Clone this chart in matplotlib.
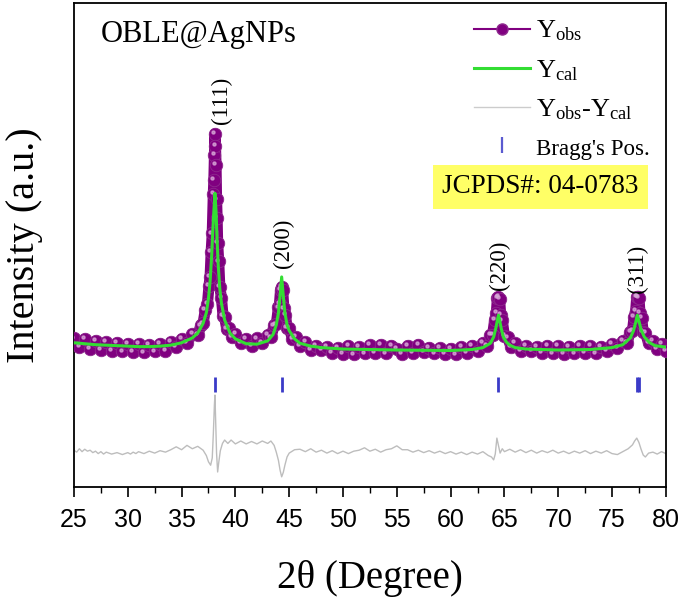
import numpy as np
import matplotlib
matplotlib.use("Agg")
import matplotlib.pyplot as plt
from matplotlib.lines import Line2D
from matplotlib.ticker import MultipleLocator
from matplotlib import transforms

plt.rcParams["font.family"] = "Liberation Serif"
plt.rcParams["mathtext.fontset"] = "custom"
plt.rcParams["mathtext.rm"] = "Liberation Serif"
plt.rcParams["mathtext.it"] = "Liberation Serif:italic"

obs_x = [25.0, 25.5, 26.0, 26.5, 27.0, 27.5, 28.0, 28.5, 29.0, 29.5, 30.0, 30.5, 31.0, 31.5,
         32.0, 32.5, 33.0, 33.5, 34.0, 34.5, 35.0, 35.5, 36.0, 36.5,
         36.8, 37.0, 37.2, 37.4, 37.55, 37.65, 37.75, 37.85, 37.95, 38.0, 38.05, 38.1, 38.15,
         38.2, 38.25, 38.3, 38.35, 38.45, 38.55, 38.7, 38.85, 39.0, 39.2, 39.4, 39.7, 40.0,
         40.5, 41.0, 41.5, 42.0, 42.5, 43.0, 43.3, 43.6, 43.8, 44.0, 44.1, 44.2, 44.3, 44.4,
         44.5, 44.65, 44.8, 45.0, 45.3, 45.6, 46.0, 46.5, 47.0,
         47.5, 48.0, 48.5, 49.0, 49.5, 50.0, 50.5, 51.0, 51.5, 52.0, 52.5, 53.0, 53.5, 54.0,
         54.5, 55.0, 55.5, 56.0, 56.5, 57.0, 57.5, 58.0, 58.5, 59.0, 59.5, 60.0, 60.5, 61.0,
         61.5, 62.0, 62.5, 63.0, 63.4,
         63.7, 63.9, 64.1, 64.25, 64.35, 64.45, 64.55, 64.65, 64.8, 65.0, 65.3, 65.6, 66.0,
         66.5, 67.0, 67.5, 68.0, 68.5, 69.0, 69.5, 70.0, 70.5, 71.0, 71.5, 72.0, 72.5, 73.0,
         73.5, 74.0, 74.5, 75.0, 75.5, 76.0, 76.4, 76.7, 76.9, 77.05, 77.2, 77.3, 77.4, 77.5,
         77.6, 77.75, 77.9, 78.1, 78.4, 78.8, 79.2, 79.6, 80.0]
obs_y = [30.7, 29.0, 30.6, 28.6, 30.2, 28.4, 29.9, 28.1, 29.8, 28.0, 29.6, 27.9, 29.5, 27.8,
         29.4, 28.0, 29.6, 28.2, 29.9, 28.9, 30.6, 29.8, 31.6, 31.4,
         33.4, 33.8, 36.6, 37.8, 41.6, 43.4, 48.6, 52.4, 60.6, 63.4, 68.6, 73.0, 70.4,
         66.6, 59.4, 55.6, 50.4, 46.6, 41.4, 39.1, 35.4, 35.1, 32.6, 32.9, 31.0, 31.6,
         29.7, 30.6, 29.2, 30.7, 29.7, 31.4, 30.9, 33.4, 33.6, 37.1, 37.9, 40.8, 41.3, 40.6,
         36.9, 35.6, 32.9, 32.9, 30.6, 31.0, 29.2, 29.9, 28.3,
         29.2, 28.3, 28.9, 27.7, 28.7, 27.5, 29.2, 27.4, 28.9, 27.6, 29.3, 27.7, 29.4, 27.6,
         29.2, 28.5, 27.5, 29.2, 27.7, 29.4, 27.9, 28.8, 27.6, 28.7, 27.5, 28.6, 27.4, 28.9,
         27.7, 29.2, 28.0, 29.8, 29.2,
         31.4, 31.4, 34.6, 35.9, 39.1, 39.3, 38.9, 35.6, 34.4, 31.2, 30.9, 29.0, 29.7,
         28.2, 29.1, 28.1, 28.9, 27.7, 29.2, 27.6, 29.1, 27.5, 29.0, 27.6, 29.2, 27.7, 29.1,
         27.6, 29.0, 28.2, 29.5, 28.7, 30.2, 29.8, 32.1, 32.2, 35.1, 36.4, 39.3, 39.3, 39.1,
         35.9, 34.9, 32.0, 31.9, 29.7, 30.2, 28.6, 29.6, 28.2]

# Berechnete Intensität (Y_cal)
cal_x = [25.0, 26.0, 27.0, 28.0, 29.0, 30.0, 31.0, 32.0, 33.0, 34.0, 35.0, 36.0, 36.5, 37.0,
         37.3, 37.5, 37.65, 37.8, 37.9, 38.0, 38.1, 38.2, 38.3, 38.4, 38.55, 38.7, 39.0,
         39.5, 40.0, 41.0, 42.0, 43.0, 43.5, 43.8, 44.0, 44.15, 44.3, 44.45, 44.6, 44.8,
         45.0, 45.5, 46.0, 47.0, 48.0, 50.0, 55.0, 60.0, 62.0, 63.0, 63.7, 64.0, 64.2, 64.35,
         64.45, 64.55, 64.7, 64.9, 65.2, 65.5, 66.0, 67.0, 70.0, 73.0, 75.0, 76.0, 76.7,
         77.0, 77.2, 77.35, 77.5, 77.7, 78.0, 78.5, 79.0, 80.0]
cal_y = [29.8, 29.6, 29.4, 29.3, 29.2, 29.1, 29.0, 29.0, 29.1, 29.3, 29.8, 30.8, 31.8, 33.8,
         36.0, 39.0, 42.5, 48.0, 53.0, 57.0, 60.7, 57.0, 51.0, 46.0, 41.0, 38.0, 34.5,
         31.8, 30.6, 29.6, 29.5, 30.2, 31.5, 33.5, 36.0, 39.5, 43.4, 39.5, 36.0, 33.5,
         32.3, 30.6, 29.7, 29.1, 28.8, 28.5, 28.3, 28.2, 28.4, 28.8, 29.7, 31.0, 32.8, 34.5,
         35.5, 34.5, 32.8, 31.0, 29.9, 29.3, 28.8, 28.5, 28.3, 28.4, 28.8, 29.4, 30.8,
         32.3, 34.0, 35.5, 34.3, 32.5, 31.0, 29.8, 29.2, 28.9]

# Differenzkurve (Y_obs - Y_cal), nach unten versetzt
diff_x = [25.0, 25.25, 25.5, 25.75, 26.0, 26.25, 26.5, 26.75, 27.0, 27.25, 27.5, 27.75, 28.0,
          28.5, 29.0, 29.5, 30.0, 30.25, 30.5, 30.75, 31.0, 31.5, 32.0, 32.5, 33.0, 33.5,
          34.0, 34.5, 35.0, 35.5, 36.0, 36.5,
          37.0, 37.3, 37.5, 37.7, 37.85, 37.95, 38.05, 38.1, 38.15, 38.25, 38.35, 38.45,
          38.6, 38.8, 39.0, 39.3, 39.6, 40.0, 40.5, 41.0, 41.5, 42.0, 42.5, 43.0, 43.3,
          43.6, 43.8, 44.0, 44.15, 44.3, 44.45, 44.6, 44.8, 45.0, 45.5, 46.0, 46.5, 47.0,
          47.5, 48.0, 48.5, 49.0, 49.5, 50.0, 50.5, 51.0, 51.5, 52.0, 52.5, 53.0, 53.5,
          54.0, 54.5, 55.0, 55.5, 56.0, 56.5, 57.0, 57.5, 58.0, 58.5, 59.0, 59.5, 60.0,
          60.5, 61.0, 61.5, 62.0, 62.5, 63.0, 63.5, 63.8, 64.0, 64.15, 64.3, 64.45, 64.6,
          64.8, 65.0, 65.5, 66.0, 66.5, 67.0, 67.5, 68.0, 68.5, 69.0, 69.5, 70.0, 70.5,
          71.0, 71.5, 72.0, 72.5, 73.0, 73.5, 74.0, 74.5, 75.0, 75.5, 76.0, 76.5, 76.9,
          77.1, 77.3, 77.5, 77.7, 77.9, 78.1, 78.4, 78.8, 79.2, 79.6, 80.0]
diff_y = [7.6, 7.2, 7.9, 7.3, 7.8, 7.4, 7.6, 7.1, 7.4, 6.9, 7.3, 6.8, 7.2,
          6.8, 7.1, 6.7, 7.1, 6.8, 7.2, 6.9, 7.3, 6.9, 7.4, 7.0, 7.5, 7.2,
          7.7, 8.3, 7.7, 8.6, 7.9, 8.4,
          7.6, 6.5, 5.2, 4.5, 6.0, 11.0, 17.0, 19.0, 15.0, 7.0, 3.1, 5.0,
          7.5, 9.0, 9.7, 9.0, 9.7, 8.9, 9.5, 8.9, 9.4, 8.9, 9.5, 9.0, 9.5,
          8.6, 7.2, 5.5, 3.5, 2.1, 3.0, 4.5, 6.2, 7.0, 7.7, 7.8, 7.3, 7.9,
          7.2, 7.6, 7.0, 7.5, 6.9, 7.4, 6.9, 7.4, 7.6, 8.1, 7.4, 7.8, 7.2,
          7.7, 7.9, 8.5, 7.7, 7.7, 7.2, 7.6, 7.1, 7.5, 7.0, 7.4, 6.9, 7.3,
          6.8, 7.2, 6.7, 7.2, 6.8, 7.3, 6.5, 6.2, 5.6, 6.8, 10.1, 8.5, 7.0,
          7.9, 7.3, 7.8, 7.2, 7.7, 7.1, 7.6, 7.0, 7.5, 7.1, 7.6, 7.0, 7.4,
          6.9, 7.4, 7.0, 7.5, 6.9, 7.4, 7.0, 7.5, 6.9, 6.7, 7.3, 7.9, 8.7,
          9.5, 10.1, 9.2, 7.8, 6.6, 6.2, 7.0, 7.2, 6.8, 7.3, 6.9]

# Bragg-Positionen (Ag, JCPDS 04-0783)
bragg_pos = [38.12, 44.30, 64.45, 77.30, 77.55]

# Reflexbeschriftungen
hkl_labels = ["(111)", "(200)", "(220)", "(311)"]
hkl_x = [38.75, 44.45, 64.5, 77.4]
hkl_y = [75.0, 45.2, 40.7, 40.1]

PURPLE = "#800080"
GREEN = "#33dd33"

fig = plt.figure(figsize=(6.85, 5.99), dpi=100)
ax = fig.add_axes([0.108, 0.187, 0.864, 0.808])

# Differenzkurve
ax.plot(diff_x, diff_y, color="#bdbdbd", lw=1.0, zorder=2)

# Bragg-Striche
ax.vlines(bragg_pos, 19.6, 22.7, color="#3a3ac8", lw=2.0, zorder=2)

# Y_obs: dichtes Band aus Kugel-Markern
ax.plot(obs_x, obs_y, color=PURPLE, lw=8, solid_capstyle="round",
        solid_joinstyle="round", zorder=3)
ax.plot(obs_x, obs_y, ls="none", marker="o", markersize=9,
        markerfacecolor=PURPLE, markeredgecolor="#8e2a8e", markeredgewidth=0.6, zorder=3)
hl = transforms.offset_copy(ax.transData, fig=fig, x=-1.3, y=1.3, units="points")
ax.plot(obs_x, obs_y, ls="none", marker="o", markersize=2.2, color="#d8a8d8",
        alpha=0.75, transform=hl, zorder=4)

# Y_cal
ax.plot(cal_x, cal_y, color=GREEN, lw=2.2, zorder=5)

for lab, x, y in zip(hkl_labels, hkl_x, hkl_y):
    ax.text(x, y, lab, rotation=90, ha="center", va="bottom", fontsize=16.5)

ax.text(0.045, 0.965, "OBLE@AgNPs", transform=ax.transAxes, fontsize=22,
        ha="left", va="top")

# Legende
handles = [
    Line2D([], [], color=PURPLE, lw=1.5, marker="o", markersize=8,
           markerfacecolor=PURPLE, markeredgecolor="#8e2a8e"),
    Line2D([], [], color=GREEN, lw=2.2),
    Line2D([], [], color="#cccccc", lw=1.0),
    Line2D([], [], ls="none", marker="|", markersize=11, markeredgewidth=1.6, color="#5a5ad0"),
]
labels = [r"$\mathrm{Y_{obs}}$", r"$\mathrm{Y_{cal}}$",
          r"$\mathrm{Y_{obs}}$-$\mathrm{Y_{cal}}$", "Bragg's Pos."]
leg = ax.legend(handles, labels, loc="upper right", bbox_to_anchor=(1.0, 1.0),
                frameon=False, fontsize=19, handlelength=2.1, handletextpad=0.25,
                labelspacing=0.55, borderaxespad=0.2)
leg.get_texts()[3].set_fontsize(16.5)

ax.text(0.622, 0.62, "JCPDS#: 04-0783", transform=ax.transAxes, fontsize=19.5,
        ha="left", va="center",
        bbox=dict(boxstyle="square,pad=0.35", facecolor="#ffff66", edgecolor="none"))

ax.set_xlim(25, 80)
ax.set_ylim(0, 100)
ax.xaxis.set_major_locator(MultipleLocator(5))
ax.xaxis.set_minor_locator(MultipleLocator(2.5))
ax.tick_params(axis="x", which="major", direction="out", length=7, width=1.2,
               labelsize=18, pad=8)
ax.tick_params(axis="x", which="minor", direction="out", length=4, width=1.0)
for lab in ax.get_xticklabels():
    lab.set_fontfamily("Liberation Sans")
ax.set_yticks([])
for sp in ax.spines.values():
    sp.set_linewidth(1.3)

ax.set_xlabel("2θ (Degree)", fontsize=28, labelpad=20)
ax.set_ylabel("Intensity (a.u.)", fontsize=29, labelpad=22)

fig.savefig("out.png", dpi=100)
